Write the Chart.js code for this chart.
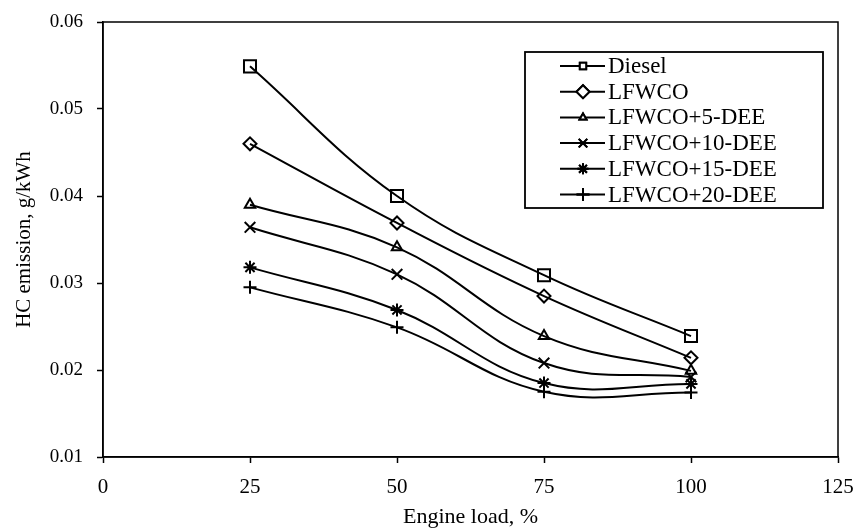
<!DOCTYPE html>
<html>
<head>
<meta charset="utf-8">
<script src="https://cdn.jsdelivr.net/npm/chart.js@4.4.0/dist/chart.umd.min.js"></script>
<style>
html, body { margin: 0; padding: 0; background: #fff; }
#wrap { width: 856px; height: 528px; }
</style>
</head>
<body>
<div id="wrap"><canvas id="hc-chart" width="856" height="528"></canvas></div>
<script>
// HC emission vs engine load

const loads = [25, 50, 75, 100];
const seriesNames = ['Diesel', 'LFWCO', 'LFWCO+5-DEE', 'LFWCO+10-DEE', 'LFWCO+15-DEE', 'LFWCO+20-DEE'];
const diesel = [0.0549, 0.0400, 0.0309, 0.0239];
const lfwco = [0.0460, 0.0369, 0.0285, 0.0214];
const lfwco5 = [0.0390, 0.0341, 0.0239, 0.0199];
const lfwco10 = [0.0364, 0.0310, 0.0208, 0.0192];
const lfwco15 = [0.0318, 0.0269, 0.0185, 0.0184];
const lfwco20 = [0.0295, 0.0249, 0.0175, 0.0174];
const xTicks = [0, 25, 50, 75, 100, 125];
const yTicks = [0.01, 0.02, 0.03, 0.04, 0.05, 0.06];

const allValues = [diesel, lfwco, lfwco5, lfwco10, lfwco15, lfwco20];
const markers = ['rect', 'rectRot', 'triangle', 'crossRot', 'star', 'cross'];
const markerSize = [8.5, 6.5, 6, 7.5, 6.5, 6.5];
const legendSize = [4.5, 6.5, 4, 6, 5.5, 6.5];

const serif = "'Liberation Serif', 'Times New Roman', serif";

const datasets = seriesNames.map((name, i) => ({
    label: name,
    data: loads.map((x, j) => ({ x: x, y: allValues[i][j] })),
    borderColor: '#000',
    borderWidth: 2,
    pointStyle: markers[i],
    pointRadius: markerSize[i],
    pointBorderWidth: 2,
    pointBorderColor: '#000',
    pointBackgroundColor: 'rgba(0,0,0,0)',
    tension: 0.4,
    fill: false
}));

// frame on top and right
const frame = {
    id: 'frame',
    afterDatasetsDraw(chart) {
        const a = chart.chartArea;
        const ctx = chart.ctx;
        ctx.save();
        ctx.strokeStyle = '#000';
        ctx.lineWidth = 1.5;
        ctx.strokeRect(a.left, a.top, a.right - a.left, a.bottom - a.top);
        ctx.restore();
    }
};

// legend box inside plot
const boxLegend = {
    id: 'boxLegend',
    afterDraw(chart) {
        const ctx = chart.ctx;
        const left = 525, top = 52, right = 823, bottom = 208;
        ctx.save();
        ctx.fillStyle = '#fff';
        ctx.fillRect(left, top, right - left, bottom - top);
        ctx.strokeStyle = '#000';
        ctx.lineWidth = 1.8;
        ctx.strokeRect(left, top, right - left, bottom - top);
        ctx.font = '23px ' + serif;
        ctx.textBaseline = 'middle';
        ctx.fillStyle = '#000';
        chart.data.datasets.forEach((ds, i) => {
            const y = 66 + i * 25.7;
            ctx.beginPath();
            ctx.lineWidth = 2;
            ctx.moveTo(560, y);
            ctx.lineTo(605, y);
            ctx.stroke();
            Chart.helpers.drawPoint(ctx, {
                pointStyle: ds.pointStyle,
                radius: legendSize[i],
                borderWidth: 2,
                rotation: 0
            }, 583, y);
            ctx.fillStyle = '#fff';
            ctx.fill();
            ctx.stroke();
            ctx.fillStyle = '#000';
            ctx.fillText(ds.label, 608, y + 1);
        });
        ctx.restore();
    }
};

new Chart(document.getElementById('hc-chart'), {
    type: 'line',
    data: { datasets: datasets },
    options: {
        responsive: false,
        animation: false,
        layout: { padding: { top: 22, right: 18, left: 0, bottom: 0 } },
        plugins: {
            legend: { display: false },
            tooltip: { enabled: false }
        },
        scales: {
            x: {
                type: 'linear',
                min: 0,
                max: 125,
                afterBuildTicks: (s) => { s.ticks = xTicks.map(v => ({ value: v })); },
                afterFit: (s) => { s.height = 71; s.paddingLeft = 0; s.paddingRight = 0; },
                grid: { drawOnChartArea: false, drawTicks: true, tickLength: 6, tickColor: '#000', tickWidth: 1.5 },
                border: { display: true, color: '#000', width: 1.5 },
                ticks: { color: '#000', padding: 12, maxRotation: 0, font: { family: serif, size: 21 } },
                title: { display: true, text: 'Engine load, %', color: '#000', padding: { top: 0, bottom: 0 }, font: { family: serif, size: 22, lineHeight: 1 } }
            },
            y: {
                min: 0.01,
                max: 0.06,
                afterBuildTicks: (s) => { s.ticks = yTicks.map(v => ({ value: v })); },
                afterFit: (s) => { s.width = 103; s.paddingTop = 0; s.paddingBottom = 0; },
                grid: { drawOnChartArea: false, drawTicks: true, tickLength: 6, tickColor: '#000', tickWidth: 1.5 },
                border: { display: true, color: '#000', width: 1.5 },
                ticks: {
                    color: '#000',
                    padding: 14,
                    font: { family: serif, size: 19 },
                    callback: (v) => v.toFixed(2)
                },
                title: { display: true, text: 'HC emission, g/kWh', color: '#000', padding: { top: 14, bottom: 0 }, font: { family: serif, size: 21, lineHeight: 1 } }
            }
        }
    },
    plugins: [frame, boxLegend]
});
</script>
</body>
</html>
